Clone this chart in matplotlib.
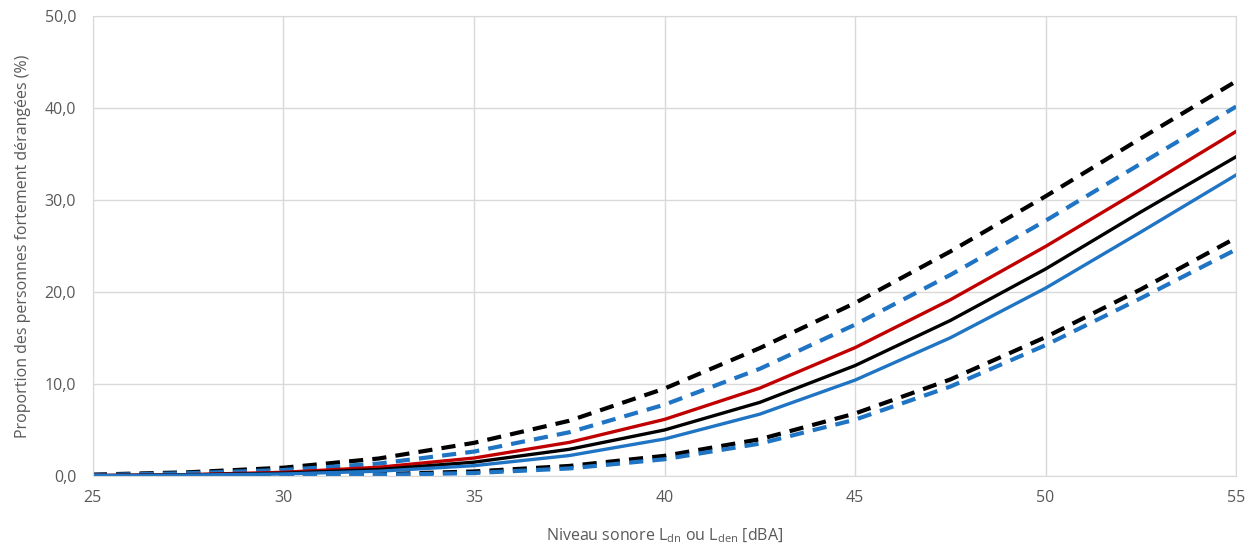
import numpy as np
import matplotlib
matplotlib.use("Agg")
import matplotlib.pyplot as plt
from matplotlib.ticker import FuncFormatter

plt.rcParams['font.family'] = ['Open Sans', 'DejaVu Sans']
plt.rcParams['mathtext.fontset'] = 'custom'
plt.rcParams['mathtext.rm'] = 'Open Sans'

# niveau sonore (dBA)
niveau = [25, 27.5, 30, 32.5, 35, 37.5, 40, 42.5, 45, 47.5, 50, 52.5, 55]

# proportion de personnes fortement derangees (%)
noir_haut = [0.15, 0.4, 0.9, 1.9, 3.6, 6.0, 9.5, 13.9, 18.8, 24.4, 30.4, 36.7, 42.9]
bleu_haut = [0.1, 0.3, 0.65, 1.35, 2.65, 4.75, 7.75, 11.65, 16.45, 21.85, 27.75, 33.95, 40.15]
rouge = [0.05, 0.15, 0.4, 0.95, 1.95, 3.65, 6.15, 9.55, 13.95, 19.15, 24.95, 31.15, 37.45]
noir = [0.04, 0.12, 0.3, 0.7, 1.5, 2.9, 5.0, 8.0, 12.0, 16.9, 22.5, 28.7, 34.7]
bleu = [0.03, 0.1, 0.22, 0.52, 1.12, 2.22, 4.02, 6.72, 10.42, 15.02, 20.42, 26.52, 32.72]
noir_bas = [0.0, 0.02, 0.07, 0.19, 0.49, 1.09, 2.19, 3.99, 6.79, 10.49, 15.09, 20.29, 25.89]
bleu_bas = [0.0, 0.01, 0.04, 0.12, 0.32, 0.82, 1.82, 3.52, 6.12, 9.72, 14.22, 19.32, 24.62]

BLEU = '#1f74c4'
ROUGE = '#c00000'

fig = plt.figure(figsize=(12.55, 5.49), dpi=100)
ax = fig.add_axes([0.074, 0.133, 0.911, 0.838])

dash = (0, (3.4, 2.2))
kw = dict(solid_joinstyle='round', dash_joinstyle='round')
ax.plot(niveau, noir_haut, color='black', lw=3, linestyle=dash, **kw)
ax.plot(niveau, bleu_haut, color=BLEU, lw=3, linestyle=dash, **kw)
ax.plot(niveau, noir_bas, color='black', lw=3, linestyle=dash, **kw)
ax.plot(niveau, bleu_bas, color=BLEU, lw=3, linestyle=dash, **kw)
ax.plot(niveau, rouge, color=ROUGE, lw=2.4, **kw)
ax.plot(niveau, noir, color='black', lw=2.4, **kw)
ax.plot(niveau, bleu, color=BLEU, lw=2.4, **kw)

ax.set_xlim(25, 55)
ax.set_ylim(0, 50)
ax.set_xticks(np.arange(25, 56, 5))
ax.set_yticks(np.arange(0, 51, 10))
ax.yaxis.set_major_formatter(FuncFormatter(lambda v, p: f"{v:.1f}".replace('.', ',')))
ax.grid(True, color='#d9d9d9', lw=1)
ax.set_axisbelow(True)
for s in ax.spines.values():
    s.set_color('#d9d9d9')
ax.tick_params(length=0, labelsize=11.5, colors='#595959', pad=10)
ax.tick_params(axis='y', pad=12)

ax.set_xlabel(r"Niveau sonore L$_{\mathrm{dn}}$ ou L$_{\mathrm{den}}$ [dBA]",
              fontsize=11.5, color='#595959', labelpad=15)
ax.set_ylabel("Proportion des personnes fortement dérangées (%)",
              fontsize=11.5, color='#595959', labelpad=10)

fig.savefig("out.png", dpi=100)
